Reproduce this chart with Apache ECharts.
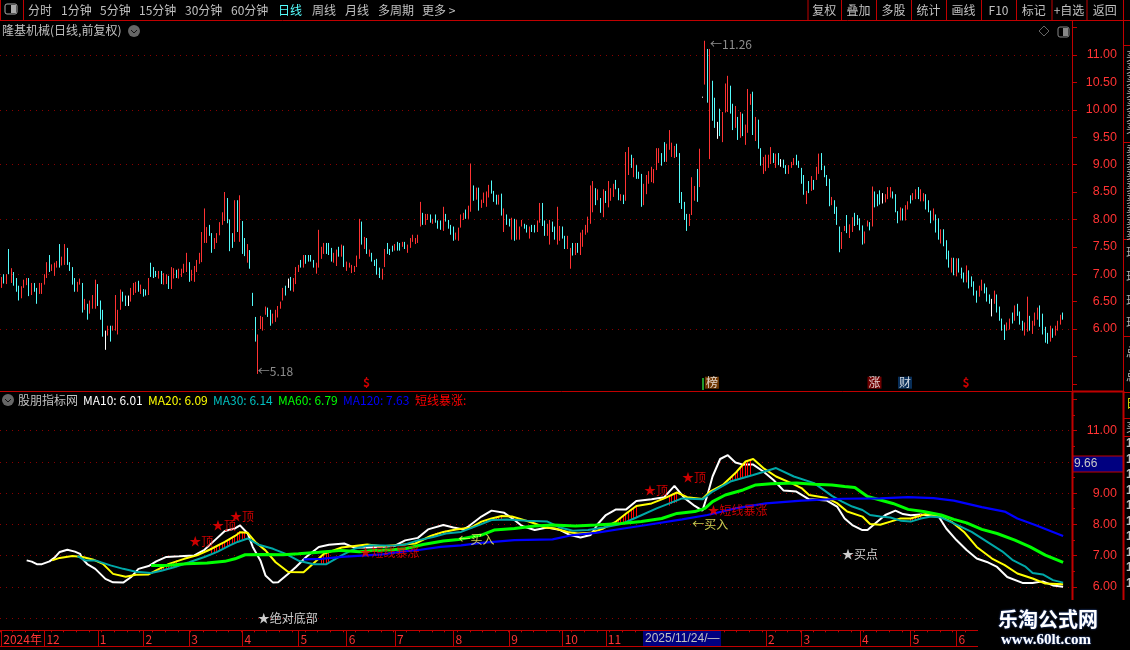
<!DOCTYPE html>
<html><head><meta charset="utf-8">
<style>html,body{margin:0;padding:0;background:#000;overflow:hidden}#c{width:1130px;height:650px}</style>
<script src="https://cdn.jsdelivr.net/npm/echarts@6/dist/echarts.min.js"></script>
</head><body><div id="c"></div>
<script>
const barHighs=[6.95,7.0,7.0,7.46,7.11,7.04,6.93,6.79,6.78,6.9,6.93,6.93,6.84,6.84,6.75,6.84,6.84,7.0,7.22,7.35,
7.18,7.21,7.24,7.55,7.32,7.55,7.48,7.22,7.13,6.93,6.86,6.92,6.84,6.55,6.46,6.52,6.62,6.9,6.82,6.52,
6.35,5.97,6.06,6.06,6.06,6.62,6.35,6.72,6.68,6.61,6.61,6.75,6.84,6.86,6.88,6.81,6.73,6.72,6.93,7.21,
7.13,7.06,7.06,7.06,7.02,7.0,6.97,7.13,7.11,7.08,7.1,7.1,7.19,7.39,7.22,7.08,7.15,7.26,7.39,7.77,
8.2,7.86,7.9,7.75,7.66,7.75,7.95,8.13,8.5,8.39,8.0,7.75,8.35,8.35,8.44,7.97,7.66,7.55,7.44,6.66,
6.22,5.9,6.24,6.22,6.41,6.39,6.35,6.28,6.35,6.42,6.5,6.75,6.79,6.92,6.95,6.93,7.13,7.17,
7.26,7.35,7.35,7.35,7.35,7.26,7.21,7.81,7.5,7.57,7.57,7.57,7.48,7.39,7.45,7.5,7.54,7.52,7.23,7.21,
7.17,7.15,7.34,8.01,7.96,7.68,7.66,7.45,7.39,7.26,7.28,7.12,7.1,7.46,7.57,7.46,7.52,7.55,7.59,7.57,
7.59,7.59,7.54,7.66,7.72,7.66,7.72,8.32,8.12,8.1,8.1,8.09,8.01,8.09,7.98,7.98,8.23,8.1,7.99,7.9,
7.87,7.76,7.85,8.09,8.12,8.18,8.25,9.02,8.62,8.58,8.58,8.36,8.49,8.51,8.63,8.71,8.52,8.45,8.45,8.47,
8.2,8.09,8.01,8.03,8.01,7.99,7.87,7.99,7.92,7.9,7.87,7.9,7.9,7.98,8.3,8.3,7.98,7.92,7.99,7.96,
7.87,8.23,7.88,7.87,7.7,7.7,7.48,7.57,7.57,7.57,7.76,7.81,7.9,8.05,8.62,
8.7,8.57,8.55,8.39,8.55,8.52,8.7,8.57,8.65,8.72,8.57,8.46,8.45,9.23,9.32,9.18,9.12,8.99,8.87,8.83,
8.65,8.81,8.88,8.96,8.92,9.3,9.3,9.21,9.41,9.38,9.63,9.4,9.34,9.38,9.21,8.5,8.32,8.1,8.1,8.77,
8.61,8.92,9.29,10.24,11.26,11.11,11.11,10.53,10.22,9.78,10.02,9.96,10.48,10.62,10.44,10.11,10.07,9.87,9.96,9.93,
9.73,10.38,10.29,10.33,9.87,9.82,9.3,9.14,9.18,9.18,9.32,9.21,9.2,9.21,9.1,9.09,8.99,8.99,9.05,9.12,
9.18,9.07,8.94,8.81,8.52,8.7,8.79,8.72,8.96,9.2,9.21,8.98,8.81,8.74,8.41,8.35,8.23,7.87,7.77,7.88,
8.08,7.91,8.04,8.12,8.08,8.02,7.89,7.78,7.98,7.95,8.6,8.51,8.46,8.53,8.48,8.46,8.59,8.59,8.51,8.46,
8.15,8.22,8.2,8.26,8.33,8.44,8.48,8.55,8.59,8.55,8.48,8.46,8.35,8.16,8.2,8.09,8.02,7.82,7.82,7.62,
7.43,7.3,7.3,7.29,7.29,7.12,7.03,7.16,7.07,6.96,6.87,6.7,6.79,6.9,6.83,6.76,6.63,6.55,6.7,6.63,
6.41,6.19,6.08,6.12,6.19,6.3,6.43,6.46,6.32,6.15,6.12,6.59,6.24,6.15,6.3,6.39,6.43,6.28,6.04,5.93,
6.06,6.01,6.06,6.15,6.26,6.3];
const barLows=[6.75,6.83,6.82,7.0,6.84,6.79,6.68,6.52,6.56,6.75,6.8,6.6,6.62,6.68,6.46,6.64,6.64,6.81,6.93,7.04,
7.06,6.97,7.12,7.12,7.16,7.17,7.17,7.06,6.81,6.68,6.68,6.81,6.3,6.35,6.17,6.28,6.37,6.37,6.42,6.17,
5.86,5.62,5.88,5.77,5.97,5.97,5.9,6.35,6.5,6.42,6.42,6.5,6.62,6.66,6.68,6.64,6.59,6.61,6.62,6.95,
6.93,6.95,6.92,6.82,6.81,6.82,6.73,6.73,6.92,6.93,6.92,6.95,7.02,7.04,6.86,6.88,6.86,7.04,7.19,7.22,
7.57,7.57,7.7,7.39,7.46,7.57,7.71,7.9,7.97,7.93,7.42,7.48,7.59,7.77,7.59,7.37,7.33,7.21,7.1,6.42,
5.77,5.18,6.0,5.97,6.26,6.22,6.06,6.1,6.13,6.21,6.37,6.52,6.61,6.75,6.7,6.68,6.82,7.04,
7.12,7.12,7.19,7.23,7.23,7.12,7.01,7.12,7.28,7.37,7.37,7.35,7.23,7.21,7.15,7.32,7.32,7.13,7.06,7.12,
7.02,7.04,7.13,7.28,7.54,7.46,7.37,7.32,7.23,7.15,6.99,6.93,6.9,7.13,7.37,7.35,7.41,7.43,7.43,7.43,
7.5,7.46,7.39,7.48,7.59,7.55,7.57,7.87,7.9,7.9,7.99,7.94,7.92,7.94,7.83,7.81,7.79,7.96,7.83,7.72,
7.61,7.63,7.61,7.85,7.99,8.01,8.01,8.14,8.34,8.36,8.16,8.21,8.3,8.23,8.4,8.47,8.32,8.27,8.27,8.07,
7.77,7.9,7.87,7.63,7.61,7.63,7.63,7.87,7.83,7.76,7.65,7.77,7.76,7.77,7.94,7.88,7.7,7.7,7.54,7.77,
7.63,7.54,7.61,7.65,7.46,7.46,7.1,7.34,7.35,7.39,7.35,7.5,7.72,7.76,7.92,
8.13,8.26,8.35,8.12,8.04,8.3,8.22,8.34,8.41,8.55,8.35,8.34,8.28,8.34,8.81,8.94,8.77,8.74,8.74,8.23,
8.26,8.46,8.65,8.68,8.66,8.9,9.03,8.98,9.05,9.05,9.27,9.14,9.12,9.14,8.3,8.19,7.99,7.79,7.88,8.08,
8.34,8.32,8.59,10.22,10.46,10.13,9.1,9.8,9.67,9.47,9.52,9.41,9.95,9.96,9.93,9.63,9.67,9.45,9.49,9.52,
9.36,9.58,10.09,9.54,9.43,9.29,8.98,8.83,8.88,8.94,9.01,9.03,8.94,8.99,8.96,8.94,8.83,8.83,8.94,8.99,
8.99,8.94,8.65,8.45,8.28,8.48,8.52,8.54,8.72,8.83,8.9,8.77,8.61,8.24,8.26,8.1,7.9,7.4,7.46,7.79,
7.75,7.66,7.77,7.88,7.9,7.8,7.54,7.56,7.87,7.8,7.87,8.22,8.24,8.27,8.29,8.31,8.37,8.4,8.38,8.13,
7.93,7.98,7.98,7.98,8.18,8.29,8.35,8.37,8.37,8.33,8.33,8.18,8.13,7.93,7.98,7.76,7.63,7.56,7.51,7.27,
7.12,7.03,6.98,6.96,7.03,6.92,6.85,6.85,6.74,6.77,6.61,6.48,6.59,6.7,6.65,6.5,6.46,6.23,6.46,6.3,
6.15,5.97,5.8,5.97,5.99,6.1,6.15,6.24,6.08,5.97,5.88,5.95,5.97,5.91,6.06,6.17,6.04,5.9,5.75,5.73,
5.77,5.84,5.88,5.97,6.08,6.17];
const barTones=("rcrcrcccrrrcrccrrrrc"+"rrrcrrcccc"+"rrcrcrrrcc"+"cwrcrrrrcc"+"wrrrcrccrc"+"ccrcrrcrrc"+"rrrrcrrrrr"+"rrccrrrrrc"+"ccrcrccrcc"+
"crrrrccrrr"+"rrcwcrrr"+"crccccrrrrcc"+"crrcrcrrrr"+"rrcrcrcccc"+"rrcccrccrc"+"rrrrrrcrrc"+"rcccrccccr"+"rrrcrrcrcr"+"rrrcccrcrc"+"crcrrrccrc"+"crrccrrccr"+"rccrrcrcrrrrr"+
"rcrcrcr"+"rrccrcrrcr"+"cccrrrrrrr"+"ccrrrrcccc"+"crrrcrwrcr"+"ccwcrrrccr"+"crcrrrcrcc"+"rrrrcrcwcc"+"rrrccccrcr"+"crrccccrcc"+"crrcrrcccc"+"rrcrcccwrr"+"rcccrcrrcr"+"rcrrcccrcc"+"rcccrcrccc"+"rccccrrccc"+"wrccccrrcr"+"cccrrcrrrc"+"cccrcrrrc").split("");
const dayLabels=Array.from({length:422},(_,i)=>String(i));

const readStep=2.5;
const monthIdx=[0,17,39,57,75,97,119,138,158,181,203,225,242,306,320,343,364,382];
const monthText=["2024年","12","1","2","3","4","5","6","7","8","9","10","11","2","3","4","5","6"];

const ma10Idx=[10,12,14,16,19,21,23,26,29,31,33,35,38,40,42,45,49,52,55,59,62,66,71,77,81,85,89,93,96,99,101,104,106,109,111,115,118,122,127,131,137,141,146,151,158,162,167,171,177,181,185,187,192,196,201,205,208,213,218,224,228,232,236,239,242,246,250,254,260,265,269,273,277,280,282,285,288,291,294,297,301,305,309,313,318,323,330,334,337,340,344,347,350,354,358,361,364,368,372,375,378,382,386,390,394,398,402,408,413,417,421,425];
const ma10Val=[6.85,6.81,6.73,6.73,6.82,6.94,7.12,7.19,7.13,7.06,6.90,6.72,6.58,6.42,6.26,6.15,6.14,6.31,6.58,6.67,6.82,6.96,6.98,7.01,7.19,7.49,7.79,7.87,7.97,7.71,7.28,6.85,6.37,6.14,6.15,6.42,6.64,6.96,7.28,7.35,7.39,7.26,7.26,7.28,7.32,7.49,7.57,7.84,7.98,7.90,7.84,7.94,8.25,8.44,8.37,8.14,7.95,7.82,7.90,7.82,7.66,7.58,7.66,8.03,8.30,8.48,8.48,8.75,8.80,8.87,9.23,8.84,8.59,8.44,8.94,9.53,10.09,10.21,9.98,9.91,9.91,9.69,9.42,9.08,9.05,8.80,8.76,8.57,8.19,7.98,7.82,7.82,8.03,8.30,8.44,8.33,8.29,8.32,8.27,8.25,7.87,7.50,7.18,6.91,6.80,6.64,6.32,6.13,6.13,6.18,6.05,6.01];
const ma20Idx=[20,23,28,33,37,41,45,50,54,59,62,67,73,78,83,89,93,96,99,102,106,110,115,121,124,129,136,141,146,152,158,166,172,177,182,188,192,196,200,204,208,213,217,222,227,231,236,241,246,250,254,260,265,270,274,280,284,289,294,298,301,305,310,316,320,323,330,334,338,344,348,352,356,360,364,370,375,380,385,390,396,401,406,413,418,425];
const ma20Val=[6.85,6.93,6.99,6.96,6.88,6.74,6.42,6.33,6.39,6.40,6.53,6.74,6.90,7.01,7.19,7.44,7.63,7.75,7.73,7.44,7.17,6.79,6.48,6.47,6.69,7.06,7.26,7.31,7.36,7.30,7.33,7.39,7.63,7.76,7.84,7.90,8.09,8.19,8.27,8.25,8.16,8.03,7.90,7.87,7.76,7.71,7.73,7.87,8.09,8.35,8.59,8.67,8.83,9.02,8.87,8.81,9.05,9.26,9.64,10.01,10.09,9.80,9.53,9.32,9.16,8.94,8.84,8.68,8.41,8.25,8.01,7.99,8.09,8.19,8.19,8.33,8.27,8.09,7.76,7.28,6.91,6.70,6.43,6.27,6.11,6.09];
const ma30Idx=[30,34,38,44,49,54,60,64,69,75,81,86,91,95,99,103,109,114,119,125,130,136,141,147,156,162,167,173,178,184,192,196,202,210,218,224,229,235,241,248,254,262,272,280,285,292,301,310,317,325,332,336,340,344,348,352,356,360,364,368,372,376,381,388,394,400,404,409,413,417,421,425];
const ma30Val=[6.99,6.85,6.85,6.69,6.58,6.49,6.45,6.52,6.63,6.79,6.96,7.12,7.33,7.44,7.55,7.36,7.22,7.06,6.84,6.73,6.73,7.01,7.22,7.33,7.32,7.36,7.49,7.60,7.71,7.76,8.01,8.14,8.16,8.12,8.09,7.90,7.80,7.82,7.90,8.01,8.22,8.51,8.83,8.80,9.05,9.37,9.58,9.80,9.53,9.32,8.91,8.73,8.57,8.46,8.30,8.25,8.22,8.12,8.09,8.19,8.25,8.22,8.03,7.76,7.45,7.14,6.87,6.66,6.45,6.40,6.22,6.14];
const ma60Idx=[60,66,74,82,89,93,98,105,113,119,127,136,143,149,156,162,169,177,183,192,197,205,213,221,230,238,248,256,264,270,277,281,285,290,297,302,308,318,325,332,337,341,346,352,357,363,369,376,381,386,392,398,405,412,418,425];
const ma60Val=[6.69,6.69,6.74,6.77,6.82,6.90,7.03,7.04,7.03,7.06,7.11,7.17,7.13,7.17,7.19,7.22,7.36,7.47,7.52,7.66,7.82,7.87,7.95,7.98,7.95,7.98,8.03,8.09,8.19,8.35,8.41,8.51,8.73,8.94,9.10,9.26,9.30,9.32,9.28,9.26,9.21,9.18,8.89,8.78,8.67,8.48,8.41,8.30,8.16,8.05,7.84,7.71,7.50,7.28,7.02,6.79];
const ma120Idx=[121,128,136,144,152,160,168,176,184,192,205,220,229,238,249,258,272,282,294,306,320,336,352,363,373,381,392,401,406,414,425];
const ma120Val=[6.88,6.90,6.96,7.00,7.04,7.12,7.19,7.28,7.33,7.41,7.50,7.52,7.66,7.73,7.87,7.98,8.16,8.30,8.51,8.67,8.76,8.82,8.83,8.87,8.84,8.76,8.55,8.41,8.19,7.98,7.63];

const stickIdx=[63,64,65,66,67,68,69,70,84,85,86,87,88,89,90,91,92,93,94,95,96,97,98,128,129,130,131,172,173,174,175,176,177,178,194,195,196,197,198,199,200,244,245,246,247,248,249,250,251,252,253,254,267,268,269,270,282,283,284,292,293,294,295,296,297,298,299,300,364,365,366,367,368];
const stickLow=[6.52,6.52,6.54,6.56,6.59,6.62,6.63,6.63,7.08,7.1,7.12,7.16,7.2,7.24,7.28,7.32,7.36,7.39,7.42,7.46,7.5,7.52,7.55,6.73,6.73,6.73,6.80,7.58,7.6,7.62,7.65,7.69,7.7,7.71,8.08,8.11,8.14,8.15,8.15,8.16,8.16,7.93,7.95,7.98,8.0,8.01,8.04,8.07,8.1,8.14,8.18,8.22,8.6,8.65,8.68,8.7,8.88,8.94,9.0,9.37,9.4,9.44,9.46,9.48,9.5,9.52,9.54,9.56,8.09,8.11,8.14,8.16,8.19];
const stickHigh=[6.56,6.60,6.65,6.70,6.73,6.76,6.80,6.85,7.22,7.27,7.32,7.36,7.40,7.45,7.5,7.55,7.6,7.66,7.72,7.75,7.78,7.77,7.75,7.0,7.07,7.12,7.16,7.65,7.68,7.72,7.74,7.76,7.78,7.80,8.14,8.16,8.19,8.22,8.24,8.25,8.27,8.0,8.04,8.09,8.15,8.22,8.28,8.35,8.41,8.47,8.53,8.59,8.9,8.95,8.98,9.0,8.95,9.02,9.1,9.45,9.53,9.62,9.73,9.84,9.92,10.0,10.04,10.07,8.19,8.22,8.26,8.3,8.33];

const lowerNoteText=["★顶","★顶","★顶","★短线暴涨","★绝对底部","←买入","★顶","★顶","★短线暴涨","←买入","★买点"];
const lowerNoteIdx=[75.5,84.3,91.5,143.5,102.7,182.7,257,272.3,282.3,276.7,336.7];
const lowerNotePrice=[7.44,7.98,8.24,7.09,5.0,7.53,9.1,9.51,8.46,8.01,7.05];
const lowerNoteTone=["#f00","#f00","#f00","#f00","#fff","#ffff66","#f00","#f00","#f00","#ffff66","#fff"];

const upperNoteText=["←5.18","←11.26"];
const upperNoteIdx=[102.3,283];
const upperNotePrice=[5.22,11.2];

const flagText=["$","榜","涨","财","$"];
const flagIdx=[144,281.5,346,359,384.3];
const flagFill=["transparent","#8a4200","#8b0000","#0a3a6e","transparent"];
const flagInk=["#f00","#fff","#fff","#fff","#f00"];

const maLegend=["MA10","MA20","MA30","MA60","MA120"];
const priceTicksUpper=[6,6.5,7,7.5,8,8.5,9,9.5,10,10.5,11];
const priceTicksLower=[6,7,8,9,11];

const menuLeft=["分时","1分钟","5分钟","15分钟","30分钟","60分钟","日线","周线","月线","多周期","更多 >"];
const menuLeftX=[28,61,100,139,185,231,278,312,345,378,422];
const menuRight=["复权","叠加","多股","统计","画线","F10","标记","+自选","返回"];
const menuRightEdges=[807.5,841,876,911,946,981,1016,1051.5,1086.5,1123];

const RED="#c00000",BAR_R="#ff3232",BAR_C="#54fcfc",CJK='"Noto Sans CJK SC","Liberation Sans",sans-serif';
const band=1072/dayLabels.length;
const toBar=i=>Math.round(i*readStep/band);
const toBarF=i=>i*readStep/band;
const pairs=(ix,v)=>ix.map((i,k)=>[toBar(i),v[k]]);

const toneColor={r:BAR_R,c:BAR_C,w:"#ffffff"};
const kData=barHighs.map((h,i)=>{const c=toneColor[barTones[i]]||BAR_R;const l=barLows[i];
  return {value:[l,h,l,h],itemStyle:{color:c,color0:c,borderColor:c,borderColor0:c,borderWidth:1}};});
const stickData=dayLabels.map(()=>"-");
stickIdx.forEach((ix,k)=>{stickData[toBar(ix)]={value:[stickLow[k],stickHigh[k],stickLow[k],stickHigh[k]]};});

const monthAt={};monthIdx.forEach((ix,k)=>{monthAt[toBar(ix)]=monthText[k];});

function noteSeries(name,xi,yi,texts,tones,px){
  return {type:"scatter",name,xAxisIndex:xi,yAxisIndex:yi,symbolSize:0,silent:true,z:20,clip:false,
    data:texts.map((t,k)=>({value:[toBarF(px.idx[k]),px.val[k]],
      label:{show:true,position:"right",distance:0,formatter:t,color:tones[k],fontSize:12,fontWeight:t==="$"?"bold":"normal",fontFamily:CJK,
        backgroundColor:px.fill?px.fill[k]:"transparent",padding:px.fill?[0,1]:0}}))};
}
const maColors=["#ffffff","#ffff00","#00a8a8","#00ff00","#0000ff"];
const maWidths=[2,2,2,3,2.2];
const maSets=[pairs(ma10Idx,ma10Val),pairs(ma20Idx,ma20Val),pairs(ma30Idx,ma30Val),pairs(ma60Idx,ma60Val),pairs(ma120Idx,ma120Val)];

const g=[];
const hl=(x1,y,x2,w=1,c=RED,z=60)=>g.push({type:"line",z,silent:true,shape:{x1,y1:y+.5,x2,y2:y+.5},style:{stroke:c,lineWidth:w}});
const vl=(x,y1,y2,w=1,c=RED,z=60)=>g.push({type:"line",z,silent:true,shape:{x1:x+.5,y1,x2:x+.5,y2},style:{stroke:c,lineWidth:w}});
const tx=(x,y,text,fill,font=12,extra={},z=70)=>g.push({type:"text",z,silent:true,x,y,style:Object.assign({text,fill,font:font+"px "+CJK,textVerticalAlign:"middle"},extra)});

hl(0,20,1130);vl(0,0,20);vl(23,0,20);
g.push({type:"rect",z:60,shape:{x:5,y:4,width:12,height:10,r:2},style:{fill:"#000",stroke:"#aaa",lineWidth:1}});
g.push({type:"rect",z:61,shape:{x:11,y:5,width:5,height:8},style:{fill:"#aaa"}});
menuLeft.forEach((t,k)=>tx(menuLeftX[k],10,t,t==="日线"?"#55ffff":"#c0c0c0",12));
menuRightEdges.forEach(x=>vl(x,0,20));
menuRight.forEach((t,k)=>tx((menuRightEdges[k]+menuRightEdges[k+1])/2,10,t,"#c0c0c0",12,{textAlign:"center"}));
tx(2,30,"隆基机械(日线,前复权)","#c0c0c0",12);
g.push({type:"circle",z:60,shape:{cx:134,cy:31,r:6},style:{fill:"#666"}});
g.push({type:"polyline",z:61,shape:{points:[[131,30],[134,33],[137,30]]},style:{stroke:"#111",fill:null,lineWidth:1}});
g.push({type:"polygon",z:60,shape:{points:[[1044,26],[1049,31],[1044,36],[1039,31]]},style:{fill:null,stroke:"#666",lineWidth:1}});
g.push({type:"rect",z:60,shape:{x:1058,y:27,width:11,height:10,r:2},style:{fill:"#000",stroke:"#888",lineWidth:1}});
g.push({type:"rect",z:61,shape:{x:1063,y:28,width:5,height:8},style:{fill:"#888"}});
g.push({type:"rect",z:61,shape:{x:702,y:378,width:2,height:12},style:{fill:"#1f9a2a"}});

vl(1072,20,391,1);vl(1072,391,600,2);vl(1123,0,391,1);vl(1123,391,600,2);
hl(0,391,1123,1);hl(1072,391,1123,2);hl(0,646,978);
hl(1123,45,1130);hl(1123,142,1130);hl(1123,239,1130);hl(1123,336,1130);hl(1123,392,1130);hl(1123,418,1130);hl(1123,436,1130);

g.push({type:"circle",z:60,shape:{cx:8,cy:400,r:6},style:{fill:"#666"}});
g.push({type:"polyline",z:61,shape:{points:[[5,399],[8,402],[11,399]]},style:{stroke:"#111",fill:null,lineWidth:1}});
tx(18,400,"股朋指标网","#c0c0c0",12);
const legendX=[83,148,213,278,343];
const legendInk=["#ffffff","#ffff00","#00c0c0","#00ff00","#0000ff"];
[ma10Val,ma20Val,ma30Val,ma60Val,ma120Val].forEach((v,k)=>tx(legendX[k],400,maLegend[k]+": "+v[v.length-1].toFixed(2),legendInk[k],12));
tx(415,400,"短线暴涨:","#ff0000",12);

g.push({type:"rect",z:60,shape:{x:1073,y:456,width:50,height:16},style:{fill:"#000080",stroke:RED,lineWidth:1}});
tx(1074,464,"9.66","#c8c8c8",12,{font:'12px "Liberation Sans"'});

g.push({type:"rect",z:60,shape:{x:643,y:631,width:78,height:15},style:{fill:"#000080"}});
tx(645,639,"2025/11/24/—","#c0c0c0",12,{font:'12px "Liberation Sans"'});

for(let y=56;y<140;y+=12)tx(1126,y,"买","#b0b0b0",12);
for(let y=150;y<236;y+=12)tx(1126,y,"卖","#b0b0b0",12);
[252,276,300,322].forEach(y=>tx(1126,y,"现","#b0b0b0",12));
[352,376].forEach(y=>tx(1126,y,"总","#b0b0b0",12));
tx(1126,403,"日","#dddd00",12);tx(1126,427,"买","#b0b0b0",12);
for(let y=444;y<596;y+=15.5)tx(1126,y,"1","#c0c0c0",12,{font:'bold 12px "Liberation Sans"'});

g.push({type:"rect",z:80,shape:{x:978,y:601,width:152,height:49},style:{fill:"#000"}});
g.push({type:"text",z:81,x:998,y:619,style:{text:"乐淘公式网",fill:"#fff",font:'bold 20px "Noto Sans CJK SC"',textVerticalAlign:"middle",textShadowColor:"#3a66c8",textShadowBlur:2}});
g.push({type:"text",z:81,x:1001,y:640,style:{text:"www.60lt.com",fill:"#fff",font:'bold 15px "Liberation Serif"',textVerticalAlign:"middle",textShadowColor:"#3a66c8",textShadowBlur:2}});

const upperY=54.8, lowerY=31.3;
const option={
  backgroundColor:"#000",animation:false,
  grid:[{left:0,width:1072,top:329-5.5*upperY,height:6.5*upperY},{left:0,width:1072,top:587-6*lowerY,height:7*lowerY}],
  xAxis:[
    {gridIndex:0,type:"category",data:dayLabels,show:false,boundaryGap:true},
    {gridIndex:1,type:"category",data:dayLabels,position:"bottom",offset:587+lowerY-618+11.7,boundaryGap:true,
      axisLine:{lineStyle:{color:RED,width:1}},
      axisTick:{show:true,alignWithLabel:true,length:16,lineStyle:{color:RED},interval:i=>monthAt[i]!==undefined},
      axisLabel:{interval:i=>monthAt[i]!==undefined,formatter:(v,i)=>monthAt[i]||"",color:"#ff3333",fontSize:12,fontFamily:CJK,align:"left",margin:3,hideOverlap:false,padding:[0,0,0,2]},
      splitLine:{show:false}},
    {gridIndex:1,type:"category",data:dayLabels,position:"bottom",offset:587+lowerY-618+11.7,boundaryGap:true,
      axisLine:{show:false},axisLabel:{show:false},splitLine:{show:false},
      axisTick:{show:true,length:2,lineStyle:{color:RED},interval:i=>i%5===0}}
  ],
  yAxis:[
    {gridIndex:0,type:"value",position:"right",min:5,max:11.5,interval:1,scale:false,
      axisLine:{show:false},
      axisTick:{show:true,length:5,lineStyle:{color:RED}},
      minorTick:{show:true,splitNumber:2,length:5,lineStyle:{color:RED}},
      splitLine:{show:true,showMinLine:false,showMaxLine:false,lineStyle:{color:"#8a0000",type:[1,5],width:1}},
      axisLabel:{customValues:priceTicksUpper,formatter:v=>v.toFixed(2),color:"#ff3333",fontSize:12.5,fontFamily:'"Liberation Sans"',align:"right",margin:45}},
    {gridIndex:1,type:"value",position:"right",min:5,max:12,interval:1,
      axisLine:{show:false},
      axisTick:{show:true,length:5,lineStyle:{color:RED}},
      minorTick:{show:true,splitNumber:2,length:3,lineStyle:{color:RED}},
      splitLine:{show:true,showMaxLine:false,lineStyle:{color:"#8a0000",type:[1,5],width:1}},
      axisLabel:{customValues:priceTicksLower,formatter:v=>v.toFixed(2),color:"#ff3333",fontSize:12.5,fontFamily:'"Liberation Sans"',align:"right",margin:45}}
  ],
  graphic:g,
  series:[
    {type:"candlestick",name:"日线",xAxisIndex:0,yAxisIndex:0,barWidth:1,data:kData,large:false,silent:true,clip:false},
    noteSeries("价格标注",0,0,upperNoteText,upperNoteText.map(()=>"#b0b0b0"),{idx:upperNoteIdx,val:upperNotePrice}),
    noteSeries("信息地雷",0,0,flagText,flagInk,{idx:flagIdx,val:flagIdx.map(()=>5.02),fill:flagFill}),
    ...maLegend.map((name,k)=>({type:"line",name,xAxisIndex:1,yAxisIndex:1,data:maSets[k],showSymbol:false,symbol:"none",silent:true,
      lineStyle:{color:maColors[k],width:maWidths[k]},z:3+k})),
    {type:"candlestick",name:"短线暴涨",xAxisIndex:1,yAxisIndex:1,barWidth:1,data:stickData,large:false,silent:true,z:3.5,
      itemStyle:{color:"#f00",color0:"#f00",borderColor:"#f00",borderColor0:"#f00",borderWidth:1}},
    noteSeries("信号",1,1,lowerNoteText,lowerNoteTone,{idx:lowerNoteIdx,val:lowerNotePrice})
  ]
};
const chart=echarts.init(document.getElementById("c"),null,{renderer:"canvas",width:1130,height:650});
chart.setOption(option);
</script></body></html>
